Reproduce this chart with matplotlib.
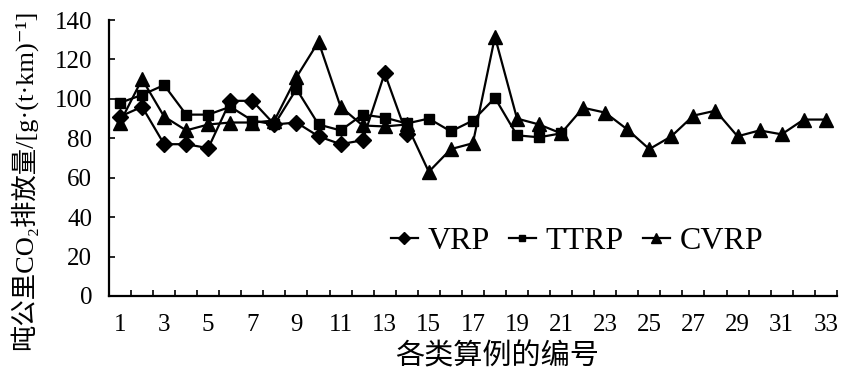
import matplotlib
matplotlib.use("Agg")
import matplotlib.pyplot as plt

# ── data ──────────────────────────────────────────────────────
cases_vrp  = list(range(1, 15))
cases_ttrp = list(range(1, 22))
cases_cvrp = list(range(1, 34))

vrp  = [91, 96, 77, 77, 75, 99, 99, 87, 88, 81, 77, 79, 113, 82]
ttrp = [98, 102, 107, 92, 92, 96, 89, 87, 105, 87, 84, 92, 90.5, 87.5,
        90, 83.5, 89, 100.5, 81.5, 80.5, 82.5]
cvrp = [88, 110, 91, 84, 87, 88, 88, 89, 111, 129, 96, 86.5, 86, 87,
        63, 74.5, 77.5, 131.5, 90, 87, 82.5, 95.5, 93, 84.5, 74.5, 81,
        91.5, 94, 81, 84, 82, 89.5, 89.5]

x_ticklabels = [str(i) for i in range(1, 34, 2)]
y_ticks = list(range(0, 141, 20))

FONT = ["Liberation Serif", "Noto Sans CJK SC", "DejaVu Sans"]
plt.rcParams["font.family"] = FONT

fig = plt.figure(figsize=(8.41, 3.74), dpi=100)
ax = fig.add_axes([0.1296, 0.2086, 0.8654, 0.7379])

line_kw = dict(color="black", linewidth=1.6)
ax.plot(cases_vrp,  vrp,  marker="D", markersize=8.5, label="VRP",  **line_kw)
ax.plot(cases_ttrp, ttrp, marker="s", markersize=7, label="TTRP", **line_kw)
ax.plot(cases_cvrp, cvrp, marker="^", markersize=9.5, label="CVRP", **line_kw)

ax.set_xlim(0.5, 33.5)
ax.set_ylim(0, 140)
ax.set_yticks(y_ticks)
ax.set_xticks([i + 0.5 for i in range(0, 34)], minor=True)
ax.set_xticks(list(range(1, 34, 2)))
ax.set_xticklabels(x_ticklabels)
ax.tick_params(axis="x", which="major", length=0, labelsize=18, pad=13)
ax.tick_params(axis="x", which="minor", direction="in", length=4, width=1.2)
ax.tick_params(axis="y", direction="in", length=4, width=1.2, labelsize=18, pad=12)

for s in ["top", "right"]:
    ax.spines[s].set_visible(False)
for s in ["left", "bottom"]:
    ax.spines[s].set_linewidth(1.6)

fig.text(0.591, 0.045, "各类算例的编号", ha="center", va="center", fontsize=21)
fig.text(0.027, 0.52, "吨公里CO₂排放量/[g·(t·km)⁻¹]", ha="center", va="center",
         rotation=90, fontsize=19)

ax.legend(loc="center", bbox_to_anchor=(0.686, 0.355), bbox_transform=fig.transFigure,
          ncol=3, frameon=False, fontsize=23, handlelength=0.85, handletextpad=0.3,
          columnspacing=0.6, markerscale=0.7)

fig.savefig("out.png", dpi=100)
